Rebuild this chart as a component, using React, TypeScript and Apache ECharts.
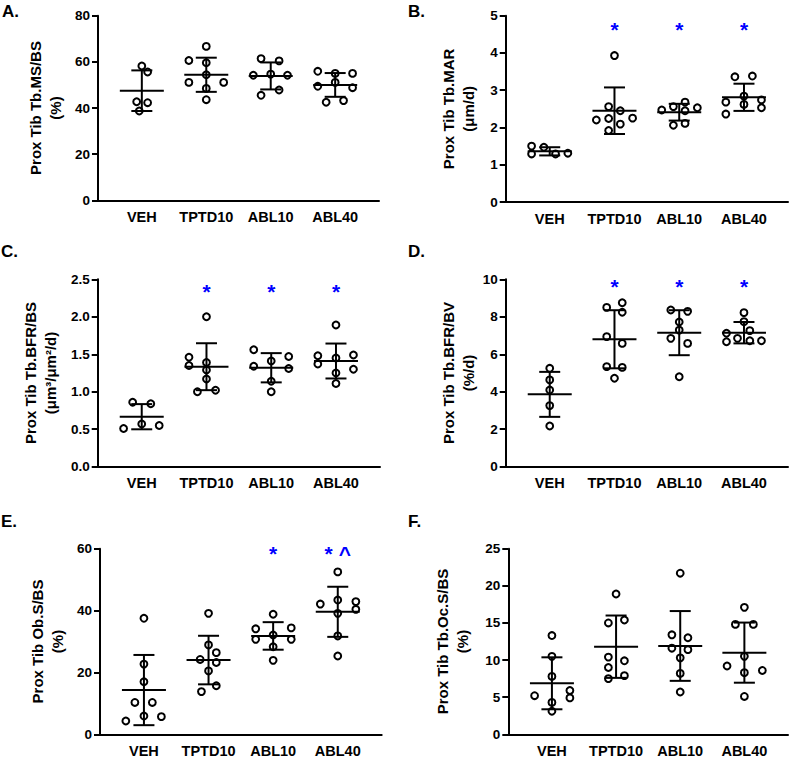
import React, { useEffect, useRef } from 'react';
import * as echarts from 'echarts';

const categories = ['VEH', 'TPTD10', 'ABL10', 'ABL40'];

// ---- Panel A: Prox Tib Tb.MS/BS (%)
const aValues = [
  [58.2, 55.6, 42.7, 42.3, 38.7],
  [66.7, 60.6, 59.6, 54.4, 51.1, 51.1, 48.5, 43.6],
  [61.4, 60.4, 54.2, 54.7, 54.2, 47.8, 45.5],
  [55.9, 55.0, 55.0, 51.1, 49.4, 48.8, 42.5, 43.2],
];
const aJitter = [
  [0, 0.09, -0.08, 0.09, -0.04],
  [0, -0.27, 0, 0, -0.27, 0.27, 0, 0],
  [-0.15, 0.13, -0.27, 0, 0.26, 0.13, -0.15],
  [-0.27, 0, 0.27, 0, -0.27, 0.27, -0.14, 0.13],
];
const aMean = [47.5, 54.4, 53.9, 50.0];
const aSD = [8.8, 7.4, 5.85, 5.15];

// ---- Panel B: Prox Tib Tb.MAR (µm/d)
const bValues = [
  [1.5, 1.29, 1.47, 1.29, 1.31],
  [3.93, 2.56, 2.45, 2.2, 2.24, 2.25, 2.09, 1.92],
  [2.47, 2.56, 2.68, 2.45, 2.53, 2.06, 2.11],
  [3.36, 3.38, 2.84, 2.68, 2.74, 2.62, 2.53, 2.36],
];
const bJitter = [
  [-0.28, -0.28, -0.09, 0.09, 0.28],
  [0, -0.09, 0.09, -0.28, -0.09, 0.28, 0.09, -0.09],
  [-0.27, -0.09, 0.09, 0.09, 0.28, -0.09, 0.09],
  [-0.14, 0.13, 0, -0.28, 0.27, 0, 0.27, -0.28],
];
const bMean = [1.36, 2.45, 2.41, 2.81];
const bSD = [0.11, 0.625, 0.225, 0.365];

// ---- Panel C: Prox Tib Tb.BFR/BS
const cValues = [
  [0.51, 0.57, 0.55, 0.86, 0.84],
  [2.0, 1.46, 1.35, 1.39, 1.29, 1.17, 1.0, 1.02],
  [1.56, 1.47, 1.41, 1.34, 1.31, 1.14, 1.0],
  [1.89, 1.48, 1.49, 1.37, 1.45, 1.3, 1.25, 1.11],
];
const cJitter = [
  [-0.28, 0, 0.27, -0.14, 0.14],
  [0, -0.27, -0.27, 0, 0, 0, -0.14, 0.14],
  [-0.27, 0.27, 0, -0.27, 0.27, 0, 0],
  [0, -0.28, 0.27, -0.28, 0, 0.27, 0, 0],
];
const cMean = [0.667, 1.334, 1.32, 1.41];
const cSD = [0.168, 0.313, 0.195, 0.233];

// ---- Panel D: Prox Tib Tb.BFR/BV
const dValues = [
  [5.25, 4.63, 4.09, 3.26, 2.17],
  [8.5, 8.75, 8.24, 6.94, 6.58, 5.34, 5.3, 4.72],
  [8.36, 8.29, 7.72, 7.29, 6.85, 6.58, 4.8],
  [8.22, 7.74, 7.12, 7.26, 6.85, 6.67, 6.72, 6.72],
];
const dJitter = [
  [0, 0, 0, 0, 0],
  [-0.12, 0.12, 0.12, -0.12, 0.12, -0.12, 0.12, 0],
  [-0.13, 0.13, 0, 0, -0.13, 0.13, 0],
  [0, 0, -0.27, 0.09, -0.1, -0.27, 0.09, 0.27],
];
const dMean = [3.86, 6.8, 7.15, 7.15];
const dSD = [1.2, 1.55, 1.2, 0.57];

// ---- Panel E: Prox Tib Ob.S/BS (%)
const eValues = [
  [37.5, 22.7, 17.0, 10.3, 10.3, 5.9, 5.7, 4.3],
  [39.1, 28.9, 26.4, 24.2, 23.2, 20.5, 15.7, 13.8],
  [38.8, 34.1, 34.4, 32.1, 30.7, 30.7, 28.3, 23.9],
  [52.5, 42.1, 43.4, 42.9, 40.4, 39.1, 31.8, 25.3],
];
const eJitter = [
  [0, 0, 0, -0.14, 0.13, 0, 0.27, -0.28],
  [0, 0, 0.12, -0.13, 0.12, 0, 0.12, -0.11],
  [0, -0.27, 0.28, 0, -0.27, 0.28, 0, 0],
  [0, -0.27, 0, 0.28, 0.28, 0, 0, 0],
];
const eMean = [14.3, 24.0, 31.8, 39.6];
const eSD = [11.35, 7.85, 4.45, 8.1];

// ---- Panel F: Prox Tib Tb.Oc.S/BS (%)
const fValues = [
  [13.3, 10.5, 7.8, 5.2, 5.9, 4.9, 4.3, 3.1],
  [18.9, 15.0, 15.4, 10.4, 9.9, 9.0, 7.5, 7.9],
  [21.7, 13.4, 13.0, 11.6, 11.4, 10.3, 8.2, 5.7],
  [17.1, 14.8, 14.8, 9.2, 10.5, 8.3, 8.6, 5.1],
];
const fJitter = [
  [0, 0, 0, -0.27, 0.28, 0.28, 0, 0],
  [0, -0.12, 0.13, -0.12, 0.13, -0.12, -0.12, 0.13],
  [0, -0.13, 0.12, -0.13, 0.12, 0, 0, 0],
  [0, -0.14, 0.14, -0.27, 0, 0, 0.28, 0],
];
const fMean = [6.87, 11.8, 11.9, 11.0];
const fSD = [3.5, 4.2, 4.7, 4.05];

// significance marks: [category index, text]
const bStars: [number, string][] = [[1, '*'], [2, '*'], [3, '*']];
const cStars: [number, string][] = [[1, '*'], [2, '*'], [3, '*']];
const dStars: [number, string][] = [[1, '*'], [2, '*'], [3, '*']];
const eStars: [number, string][] = [[2, '*'], [3, '* ^']];
const starLevel = [0, 4.77, 2.4, 9.87, 60.1, 0];

const yMax = [80, 5, 2.5, 10, 60, 25];
const yInterval = [20, 1, 0.5, 2, 20, 5];
const yDecimals = [0, 0, 1, 0, 0, 0];
const yTitles = [
  'Prox Tib Tb.MS/BS\n(%)',
  'Prox Tib Tb.MAR\n(μm/d)',
  'Prox Tib Tb.BFR/BS\n(μm³/μm²/d)',
  'Prox Tib Tb.BFR/BV\n(%/d)',
  'Prox Tib Ob.S/BS\n(%)',
  'Prox Tib Tb.Oc.S/BS\n(%)',
];
const panelLetters = ['A.', 'B.', 'C.', 'D.', 'E.', 'F.'];

const FONT = '"Liberation Sans", Arial, sans-serif';

const panels = [
  { values: aValues, jitter: aJitter, mean: aMean, sd: aSD, stars: [] as [number, string][] },
  { values: bValues, jitter: bJitter, mean: bMean, sd: bSD, stars: bStars },
  { values: cValues, jitter: cJitter, mean: cMean, sd: cSD, stars: cStars },
  { values: dValues, jitter: dJitter, mean: dMean, sd: dSD, stars: dStars },
  { values: eValues, jitter: eJitter, mean: eMean, sd: eSD, stars: eStars },
  { values: fValues, jitter: fJitter, mean: fMean, sd: fSD, stars: [] as [number, string][] },
];

// layout (pixels)
const grids = [
  { left: 98, top: 15.7, width: 281, height: 184.6 },
  { left: 505.7, top: 15.7, width: 282.3, height: 186.3 },
  { left: 97.7, top: 279.3, width: 282.3, height: 187.4 },
  { left: 505.7, top: 279.3, width: 282.3, height: 187.4 },
  { left: 100, top: 548.7, width: 281.7, height: 185.6 },
  { left: 508.3, top: 548.7, width: 279.7, height: 185.6 },
];
const nameGaps = [33, 27, 37, 27, 33, 36];
const letterPos = [
  [2, 3], [408, 3], [1, 243], [408, 243], [1, 513], [408, 513],
];

function buildOption() {
  const grid = grids.map((g) => ({ ...g, containLabel: false }));
  const xAxis = panels.map((_, i) => ({
    gridIndex: i,
    type: 'value',
    min: 0.32,
    max: 4.68,
    axisLine: { show: true, onZero: false, lineStyle: { color: '#000', width: 2 } },
    axisTick: { show: false },
    splitLine: { show: false },
    axisLabel: {
      customValues: [1, 2, 3, 4],
      formatter: (v: number) => categories[Math.round(v) - 1] ?? '',
      color: '#000',
      fontWeight: 'bold',
      fontSize: 14.5,
      fontFamily: FONT,
      margin: 9,
    },
  }));
  const yAxis = panels.map((_, i) => ({
    gridIndex: i,
    type: 'value',
    min: 0,
    max: yMax[i],
    interval: yInterval[i],
    axisLine: { show: true, onZero: false, lineStyle: { color: '#000', width: 2 } },
    axisTick: { show: true, length: 6, lineStyle: { color: '#000', width: 2 } },
    splitLine: { show: false },
    axisLabel: {
      color: '#000',
      fontWeight: 'bold',
      fontSize: 13.5,
      fontFamily: FONT,
      margin: 8,
      formatter: (v: number) => v.toFixed(yDecimals[i]),
    },
    name: yTitles[i],
    nameLocation: 'middle',
    nameRotate: 90,
    nameGap: nameGaps[i],
    nameMoveOverlap: false,
    nameTextStyle: {
      color: '#000',
      fontWeight: 'bold',
      fontSize: 15,
      fontFamily: FONT,
      lineHeight: 20,
    },
  }));

  const series: any[] = [];
  panels.forEach((p, i) => {
    const pts: number[][] = [];
    p.values.forEach((vals, k) => {
      vals.forEach((v, j) => pts.push([k + 1 + p.jitter[k][j], v]));
    });
    series.push({
      type: 'scatter',
      xAxisIndex: i,
      yAxisIndex: i,
      data: pts,
      symbol: 'circle',
      symbolSize: 6.8,
      itemStyle: { color: 'rgba(255,255,255,0)', borderColor: '#000', borderWidth: 2, opacity: 1 },
      z: 2,
    });
    series.push({
      type: 'custom',
      xAxisIndex: i,
      yAxisIndex: i,
      data: p.mean.map((m, k) => [k + 1, m, p.sd[k]]),
      encode: { x: 0, y: 1 },
      z: 3,
      renderItem: (params: any, api: any) => {
        const x = api.value(0);
        const m = api.value(1);
        const s = api.value(2);
        const c = api.coord([x, m]);
        const t = api.coord([x, m + s]);
        const b = api.coord([x, m - s]);
        const style = { stroke: '#000', lineWidth: 2 };
        return {
          type: 'group',
          children: [
            { type: 'line', shape: { x1: c[0] - 22, y1: c[1], x2: c[0] + 22, y2: c[1] }, style },
            { type: 'line', shape: { x1: t[0], y1: t[1], x2: b[0], y2: b[1] }, style },
            { type: 'line', shape: { x1: t[0] - 10.5, y1: t[1], x2: t[0] + 10.5, y2: t[1] }, style },
            { type: 'line', shape: { x1: b[0] - 10.5, y1: b[1], x2: b[0] + 10.5, y2: b[1] }, style },
          ],
        };
      },
    });
    if (p.stars.length) {
      const stars = p.stars;
      series.push({
        type: 'custom',
        xAxisIndex: i,
        yAxisIndex: i,
        data: stars.map((s) => [s[0] + 1, starLevel[i]]),
        encode: { x: 0, y: 1 },
        z: 4,
        clip: false,
        renderItem: (params: any, api: any) => {
          const c = api.coord([api.value(0), api.value(1)]);
          return {
            type: 'text',
            x: c[0],
            y: c[1] + 5,
            style: {
              text: stars[params.dataIndex][1],
              fill: '#0000ff',
              font: `bold 21px ${FONT}`,
              align: 'center',
              verticalAlign: 'middle',
            },
          };
        },
      });
    }
  });

  const graphic = panelLetters.map((t, i) => ({
    type: 'text',
    left: letterPos[i][0],
    top: letterPos[i][1],
    style: { text: t, font: `bold 17px ${FONT}`, fill: '#000' },
  }));

  return {
    animation: false,
    backgroundColor: '#fff',
    grid,
    xAxis,
    yAxis,
    series,
    graphic,
  };
}

export default function App() {
  const ref = useRef<HTMLDivElement>(null);
  useEffect(() => {
    document.body.style.margin = '0';
    if (!ref.current) return;
    const chart = echarts.init(ref.current, null, { renderer: 'svg' });
    chart.setOption(buildOption() as any);
    return () => chart.dispose();
  }, []);
  return (
    <div
      ref={ref}
      style={{ position: 'absolute', left: 0, top: 0, width: 790, height: 759 }}
    />
  );
}
